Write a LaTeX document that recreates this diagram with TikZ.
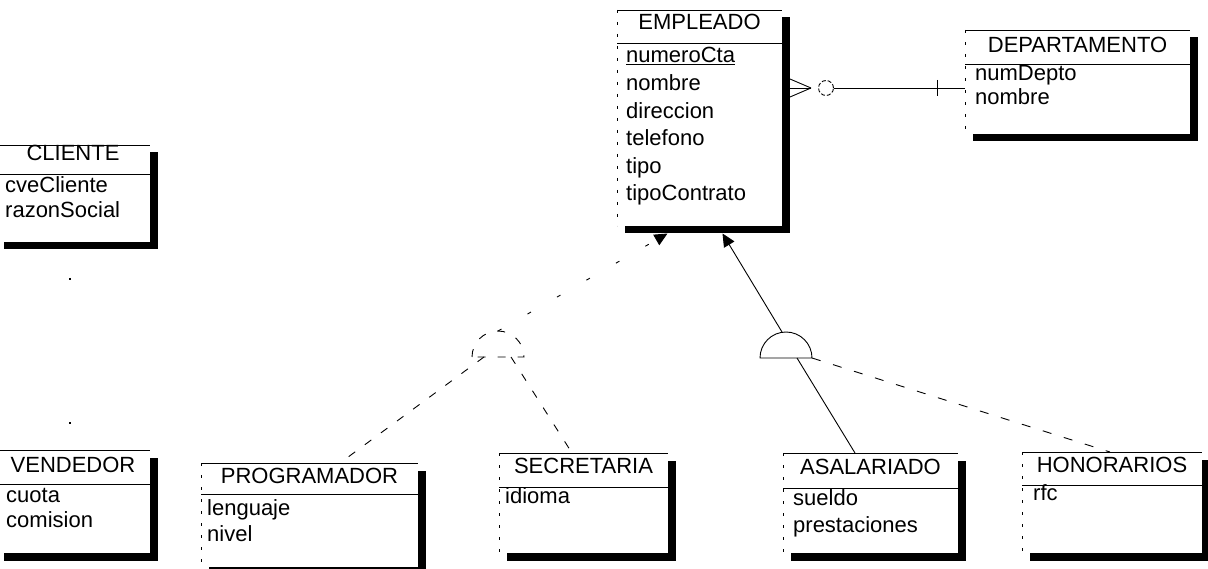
\documentclass[tikz,border=0pt]{standalone}
\usepackage{fontspec}
\setmainfont{Liberation Sans}
\usetikzlibrary{shadows,fit,arrows.meta}
\begin{document}
\begin{tikzpicture}[x=1pt,y=-1pt,
  ent/.style={fill=white, inner sep=0pt, outer sep=0pt,
    general shadow={fill=black, shadow xshift=7.5pt, shadow yshift=-7.5pt}},
  edge/.style={line width=0.9pt},
  faded/.style={line width=0.9pt, dash pattern=on 3pt off 9pt},
  conn/.style={line width=0.9pt},
  fconn/.style={line width=0.9pt, dash pattern=on 8pt off 12pt},
  vfconn/.style={line width=0.9pt, dash pattern=on 4pt off 30pt},
  tip/.style={-{Triangle[length=13pt,width=12pt]}},
  ttl/.style={anchor=base, inner sep=0pt, font=\fontsize{22}{26}\selectfont},
  attr/.style={anchor=base west, inner sep=0pt, font=\fontsize{22}{26}\selectfont},
]
\useasboundingbox (0,0) rectangle (1208,569);
\clip (0,0) rectangle (1208,569);

% ---------- entity boxes ----------
\node[ent, fit={(617,10) (782,226)}] (emp) {};
\node[ent, fit={(965,30) (1190,134)}] (dep) {};
\node[ent, fit={(-4,145) (150,242)}] (cli) {};
\node[ent, fit={(-4,450) (150,553)}] (ven) {};
\node[ent, fit={(201,463) (418,567)}] (pro) {};
\node[ent, fit={(499,453) (668,553)}] (sec) {};
\node[ent, fit={(783,453) (958,553)}] (asa) {};
\node[ent, fit={(1022,452) (1202,553)}] (hon) {};

% frames: top line, faded left edge, separator
\foreach \n/\s in {emp/43, dep/64, cli/174, ven/484, pro/494, sec/487, asa/488, hon/485}{
  \draw[edge] (\n.north west) -- (\n.north east);
  \draw[faded] (\n.north west) -- (\n.south west);
  \draw[edge] (\n.west |- 0,\s) -- (\n.east |- 0,\s);
}

% ---------- titles ----------
\node[ttl] (empT) at (emp.north |- 0,30) {EMPLEADO};
\node[ttl] (depT) at (dep.north |- 0,53) {DEPARTAMENTO};
\node[ttl] (cliT) at (cli.north |- 0,161) {CLIENTE};
\node[ttl] (venT) at (ven.north |- 0,472) {VENDEDOR};
\node[ttl] (proT) at (pro.north |- 0,483) {PROGRAMADOR};
\node[ttl] (secT) at (sec.north |- 0,473) {SECRETARIA};
\node[ttl] (asaT) at (asa.north |- 0,474) {ASALARIADO};
\node[ttl] (honT) at (hon.north |- 0,472) {HONORARIOS};

% ---------- attributes ----------
\node[attr] (e1) at (626,63) {\underline{numeroCta}};
\node[attr] (e2) at (626,90.6) {nombre};
\node[attr] (e3) at (626,118.2) {direccion};
\node[attr] (e4) at (626,145.8) {telefono};
\node[attr] (e5) at (626,173.4) {tipo};
\node[attr] (e6) at (626,201) {tipoContrato};

\node[attr] (d1) at (975,81) {numDepto};
\node[attr] (d2) at (975,105) {nombre};

\node[attr] (c1) at (5,193) {cveCliente};
\node[attr] (c2) at (5,218) {razonSocial};

\node[attr] (v1) at (6,502) {cuota};
\node[attr] (v2) at (6,527) {comision};

\node[attr] (p1) at (207,515) {lenguaje};
\node[attr] (p2) at (207,541) {nivel};

\node[attr] (s1) at (505,503) {idioma};

\node[attr] (a1) at (793,505) {sueldo};
\node[attr] (a2) at (793,532) {prestaciones};

\node[attr] (h1) at (1033,500) {rfc};

% ---------- EMPLEADO -- DEPARTAMENTO (zero or many / one) ----------
\coordinate (cf) at (811,88);
\draw[conn] (790,79) -- (cf);
\draw[conn] (790,88) -- (cf);
\draw[conn] (790,97) -- (cf);
\node[circle, draw, line width=0.9pt, dash pattern=on 4pt off 2pt, minimum size=15pt, inner sep=0pt] (zero) at (826,88) {};
\draw[conn] (zero.east) -- (dep.west |- 0,88);
\draw[conn] (937,80) -- (937,96);

% ---------- specialization 1 (faded) ----------
\coordinate (hcL) at (498,357);
\draw[fconn] ([xshift=-26pt]hcL) arc[start angle=180, end angle=0, radius=26pt] -- cycle;
\draw[vfconn, tip] ([yshift=26pt]hcL) -- ([shift={(-32,7.5)}]emp.south);
\draw[fconn] ([xshift=-14pt]hcL) -- (pro.north -| 340,0);
\draw[fconn] ([xshift=13pt]hcL) -- (sec.north -| 572,0);

% ---------- CLIENTE -- VENDEDOR (faded) ----------
\draw[line width=1.2pt, dash pattern=on 2pt off 142pt, dash phase=108pt] (cli.south -| 70,0) -- (ven.north -| 70,0);

% ---------- specialization 2 ----------
\coordinate (hcR) at (786,358);
\draw[edge] ([xshift=-26pt]hcR) arc[start angle=180, end angle=0, radius=26pt] -- cycle;
\draw[conn, tip] ([shift={(-4,-26)}]hcR) -- ([shift={(23,7.5)}]emp.south);
\draw[conn] ([xshift=11pt]hcR) -- (asa.north -| 855,0);
\draw[conn, dash pattern=on 9pt off 13pt] ([xshift=26pt]hcR) -- (hon.north -| 1110,0);

\end{tikzpicture}
\end{document}
